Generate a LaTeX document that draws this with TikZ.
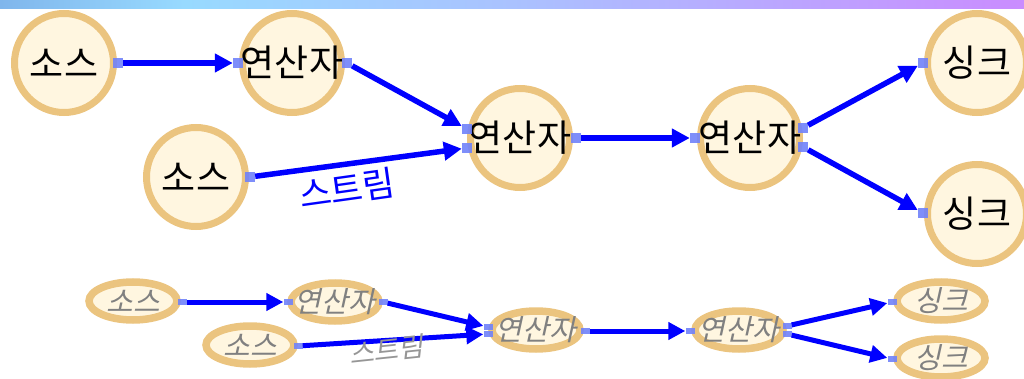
\documentclass[tikz,border=0pt]{standalone}
\usepackage{fontspec}
\newfontfamily\kr{Noto Sans CJK KR}
\newfontfamily\krit[FakeSlant=0.22]{Noto Sans CJK KR}
\usetikzlibrary{arrows.meta,shapes.geometric}
\definecolor{ringc}{RGB}{235,196,127}
\definecolor{cream}{RGB}{255,246,224}
\definecolor{portc}{RGB}{112,130,250}
\definecolor{flowc}{RGB}{0,0,255}
\definecolor{gtext}{RGB}{128,128,128}
\definecolor{glabel}{RGB}{150,150,150}
\definecolor{gbA}{RGB}{128,182,236}
\definecolor{gbB}{RGB}{152,218,255}
\definecolor{gbC}{RGB}{170,194,255}
\definecolor{gbD}{RGB}{202,140,255}
\pgfdeclarehorizontalshading{topbar}{100bp}{color(0bp)=(gbA); color(25bp)=(gbA); color(34bp)=(gbB); color(50bp)=(gbC); color(75bp)=(gbD); color(100bp)=(gbD)}
\begin{document}
\begin{tikzpicture}[x=1pt,y=-1pt,
  big/.style={circle,draw=ringc,fill=cream,line width=7pt,minimum size=99pt,inner sep=0pt,
    font=\kr\fontsize{37}{42}\selectfont,text=black},
  small/.style={ellipse,draw=ringc,fill=cream,line width=7.5pt,minimum width=88pt,minimum height=38pt,inner sep=0pt,
    font=\krit\fontsize{29}{33}\selectfont,text=gtext},
  pt/.style={rectangle,fill=portc,fill opacity=0.9,minimum size=10pt,inner sep=0pt},
  bpt/.style={rectangle,fill=portc,fill opacity=0.9,minimum width=9pt,minimum height=6pt,inner sep=0pt},
  flow/.style={draw=flowc,line width=5.5pt,-{Triangle[length=18pt,width=18pt]}},
  bflow/.style={draw=flowc,line width=5pt,-{Triangle[length=17pt,width=17pt]}},
  lab/.style={font=\kr\fontsize{35}{40}\selectfont,text=flowc,inner sep=0pt},
  blab/.style={font=\krit\fontsize{27}{31}\selectfont,text=glabel,inner sep=0pt}]
\useasboundingbox (0,0) rectangle (1024,379);
\shade[shading=topbar] (0,0) rectangle (1024,8.5);

% top diagram
\node[big] (src1) at (64,63) {\makebox[0pt]{소스}};
\node[big] (op1) at (292,63) {\makebox[0pt]{연산자}};
\node[big] (src2) at (196,177) {\makebox[0pt]{소스}};
\node[big] (op2) at (520,138) {\makebox[0pt]{연산자}};
\node[big] (op3) at (750,138) {\makebox[0pt]{연산자}};
\node[big] (snk1) at (977,63) {\makebox[0pt]{싱크}};
\node[big] (snk2) at (977,214) {\makebox[0pt]{싱크}};

\node[pt] (src1o) at (118,63) {};
\node[pt] (op1i) at (238,63) {};
\node[pt] (op1o) at (347,63) {};
\node[pt] (src2o) at (250,177) {};
\node[pt] (op2a) at (467,129) {};
\node[pt] (op2b) at (467,148) {};
\node[pt] (op2o) at (576,138) {};
\node[pt] (op3i) at (695,138) {};
\node[pt] (op3a) at (803,128) {};
\node[pt] (op3b) at (803,147) {};
\node[pt] (snk1i) at (923,63) {};
\node[pt] (snk2i) at (923,213) {};

\draw[flow] (src1o) -- (op1i);
\draw[flow] (op1o) -- (op2a);
\draw[flow] (src2o) -- (op2b);
\draw[flow] (op2o) -- (op3i);
\draw[flow] (op3a) -- (snk1i);
\draw[flow] (op3b) -- (snk2i);
\node[lab,rotate=8] (lbl) at (347,189) {스트림};

% bottom diagram
\node[small] (bsrc1) at (133,301) {\makebox[0pt]{소스}};
\node[small] (bop1) at (335,302) {\makebox[0pt]{연산자}};
\node[small] (bsrc2) at (250,345) {\makebox[0pt]{소스}};
\node[small] (bop2) at (536,330) {\makebox[0pt]{연산자}};
\node[small] (bop3) at (739,330) {\makebox[0pt]{연산자}};
\node[small] (bsnk1) at (941,301) {\makebox[0pt]{싱크}};
\node[small] (bsnk2) at (941,358) {\makebox[0pt]{싱크}};

\node[bpt] (bsrc1o) at (182,302) {};
\node[bpt] (bop1i) at (288,302) {};
\node[bpt] (bop1o) at (383,302) {};
\node[bpt] (bsrc2o) at (298,346) {};
\node[bpt] (bop2a) at (488,327) {};
\node[bpt] (bop2b) at (488,334) {};
\node[bpt] (bop2o) at (585,331) {};
\node[bpt] (bop3i) at (690,331) {};
\node[bpt] (bop3a) at (787,326) {};
\node[bpt] (bop3b) at (787,334) {};
\node[bpt] (bsnk1i) at (892,302) {};
\node[bpt] (bsnk2i) at (892,359) {};

\draw[bflow] (bsrc1o) -- (bop1i);
\draw[bflow] (bop1o) -- (bop2a);
\draw[bflow] (bsrc2o) -- (bop2b);
\draw[bflow] (bop2o) -- (bop3i);
\draw[bflow] (bop3a) -- (bsnk1i);
\draw[bflow] (bop3b) -- (bsnk2i);
\node[blab,rotate=6] (blbl) at (386,350) {스트림};
\end{tikzpicture}
\end{document}
